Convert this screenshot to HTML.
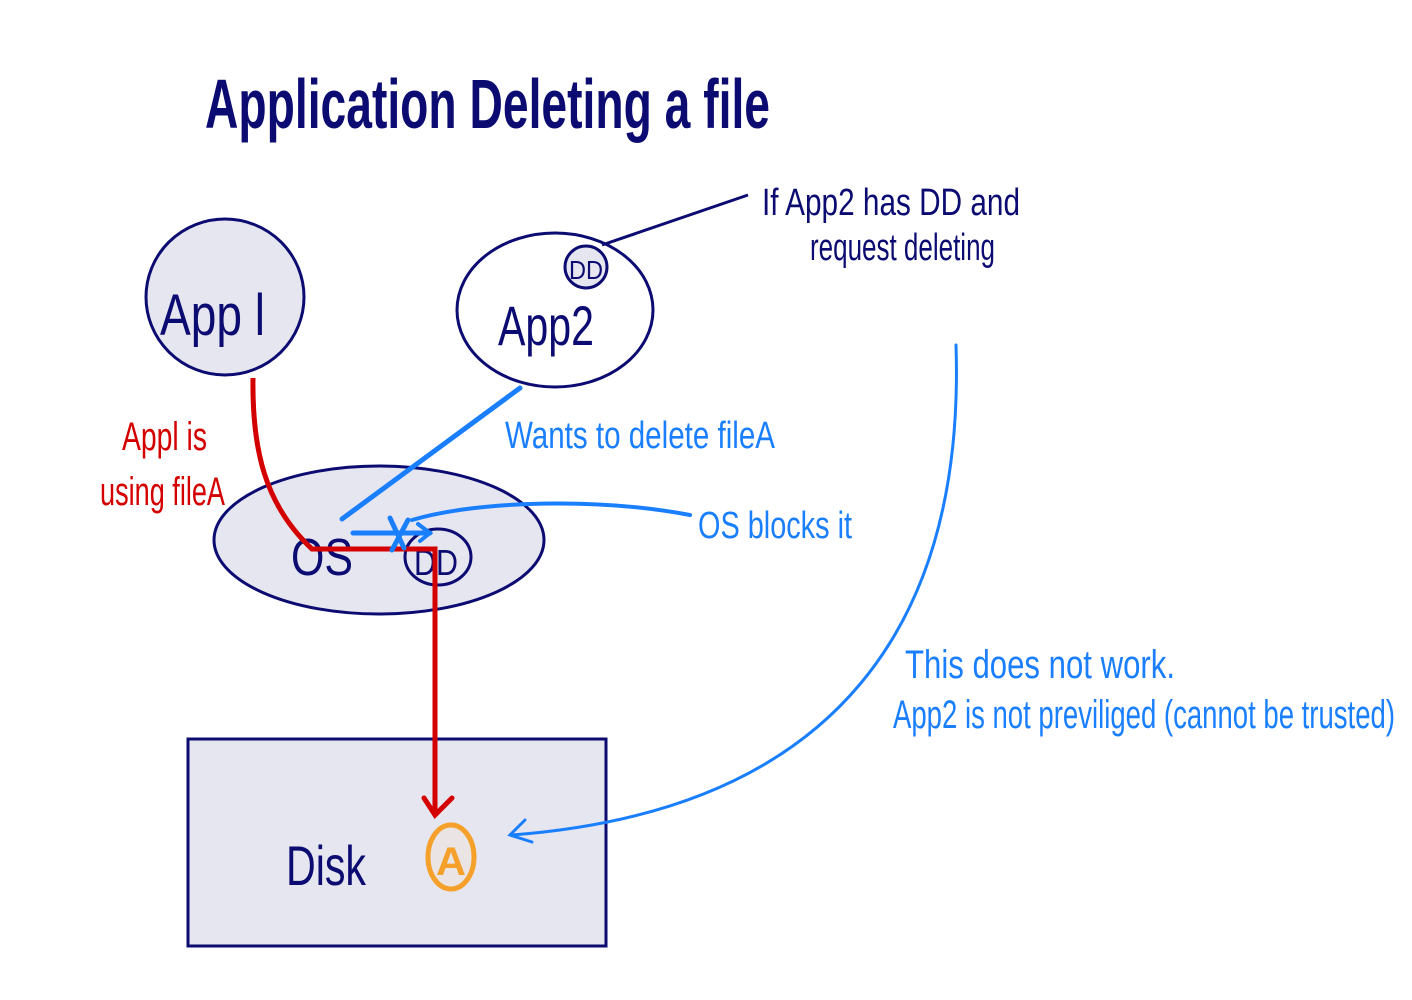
<!DOCTYPE html>
<html><head><meta charset="utf-8"><style>
html,body{margin:0;padding:0;background:#fff;}
svg{display:block;}
text{font-family:"Liberation Sans Narrow","Liberation Sans",sans-serif;}
</style></head><body>
<svg width="1412" height="1000" viewBox="0 0 1412 1000" xmlns="http://www.w3.org/2000/svg">
<rect width="1412" height="1000" fill="#fff"/>
<!-- Title -->
<text x="205" y="128" font-size="70" fill="#0b0b72" textLength="565" lengthAdjust="spacingAndGlyphs" font-weight="bold">Application Deleting a file</text>

<!-- App1 -->
<ellipse cx="225" cy="297" rx="79" ry="78" fill="#e6e6f0" stroke="#0b0b72" stroke-width="3"/>
<text x="160" y="335" font-size="58" fill="#0b0b72" textLength="105" lengthAdjust="spacingAndGlyphs">App l</text>

<!-- App2 -->
<ellipse cx="555" cy="310" rx="98" ry="77" fill="#fff" stroke="#0b0b72" stroke-width="3"/>
<circle cx="586" cy="267" r="21" fill="#e6e6f0" stroke="#0b0b72" stroke-width="3"/>
<text x="569" y="279" font-size="26" fill="#0b0b72" textLength="34" lengthAdjust="spacingAndGlyphs">DD</text>
<text x="498" y="345" font-size="56" fill="#0b0b72" textLength="96" lengthAdjust="spacingAndGlyphs">App2</text>
<line x1="602" y1="245" x2="748" y2="195" stroke="#0b0b72" stroke-width="3"/>
<text x="762" y="215" font-size="38" fill="#0b0b72" textLength="258" lengthAdjust="spacingAndGlyphs">If App2 has DD and</text>
<text x="810" y="260" font-size="38" fill="#0b0b72" textLength="185" lengthAdjust="spacingAndGlyphs">request deleting</text>

<!-- OS -->
<ellipse cx="379" cy="540" rx="165" ry="74" fill="#e6e6f0" stroke="#0b0b72" stroke-width="3"/>
<text x="291" y="575" font-size="52" fill="#0b0b72" textLength="62" lengthAdjust="spacingAndGlyphs">OS</text>
<ellipse cx="438" cy="557" rx="33" ry="28" fill="none" stroke="#0b0b72" stroke-width="3"/>
<text x="414" y="575" font-size="36" fill="#0b0b72" textLength="44" lengthAdjust="spacingAndGlyphs">DD</text>

<!-- Disk -->
<rect x="188" y="739" width="418" height="207" fill="#e6e6f0" stroke="#0b0b72" stroke-width="3"/>
<text x="286" y="885" font-size="56" fill="#0b0b72" textLength="80" lengthAdjust="spacingAndGlyphs">Disk</text>
<ellipse cx="451" cy="857" rx="23" ry="32" fill="#ebe4e4" stroke="#f4a02a" stroke-width="5"/>
<text x="436" y="875" font-size="40" fill="#f4a02a" font-weight="bold" textLength="30" lengthAdjust="spacingAndGlyphs">A</text>

<!-- red path -->
<path d="M253 378 C252 450 265 505 312 549 L435 549 L435 813" fill="none" stroke="#d40000" stroke-width="5"/>
<path d="M424 798 L435 815 L452 798" fill="none" stroke="#d40000" stroke-width="5" stroke-linecap="round"/>
<text x="122" y="450" font-size="40" fill="#d40000" textLength="85" lengthAdjust="spacingAndGlyphs">Appl is</text>
<text x="100" y="505" font-size="40" fill="#d40000" textLength="125" lengthAdjust="spacingAndGlyphs">using fileA</text>

<!-- blue -->
<line x1="520" y1="388" x2="342" y2="519" stroke="#1a7fff" stroke-width="5" stroke-linecap="round"/>
<line x1="353" y1="533" x2="430" y2="533" stroke="#1a7fff" stroke-width="5" stroke-linecap="round"/>
<path d="M418 524 L430 533 L420 541" fill="none" stroke="#1a7fff" stroke-width="4" stroke-linecap="round"/>
<path d="M390 518 L404 548 M408 520 L392 550" stroke="#1a7fff" stroke-width="5" stroke-linecap="round"/>
<path d="M690 515 C600 498 480 500 412 520" fill="none" stroke="#1a7fff" stroke-width="4" stroke-linecap="round"/>
<text x="505" y="448" font-size="38" fill="#1a7fff" textLength="270" lengthAdjust="spacingAndGlyphs">Wants to delete fileA</text>
<text x="698" y="538" font-size="38" fill="#1a7fff" textLength="154" lengthAdjust="spacingAndGlyphs">OS blocks it</text>
<path d="M956 345 C965 620 840 810 512 835" fill="none" stroke="#1a7fff" stroke-width="3" stroke-linecap="round"/>
<path d="M525 820 L510 835 L532 842" fill="none" stroke="#1a7fff" stroke-width="3" stroke-linecap="round"/>
<text x="905" y="678" font-size="40" fill="#1a7fff" textLength="270" lengthAdjust="spacingAndGlyphs">This does not work.</text>
<text x="893" y="728" font-size="40" fill="#1a7fff" textLength="502" lengthAdjust="spacingAndGlyphs">App2 is not previliged (cannot be trusted)</text>
</svg>
</body></html>
